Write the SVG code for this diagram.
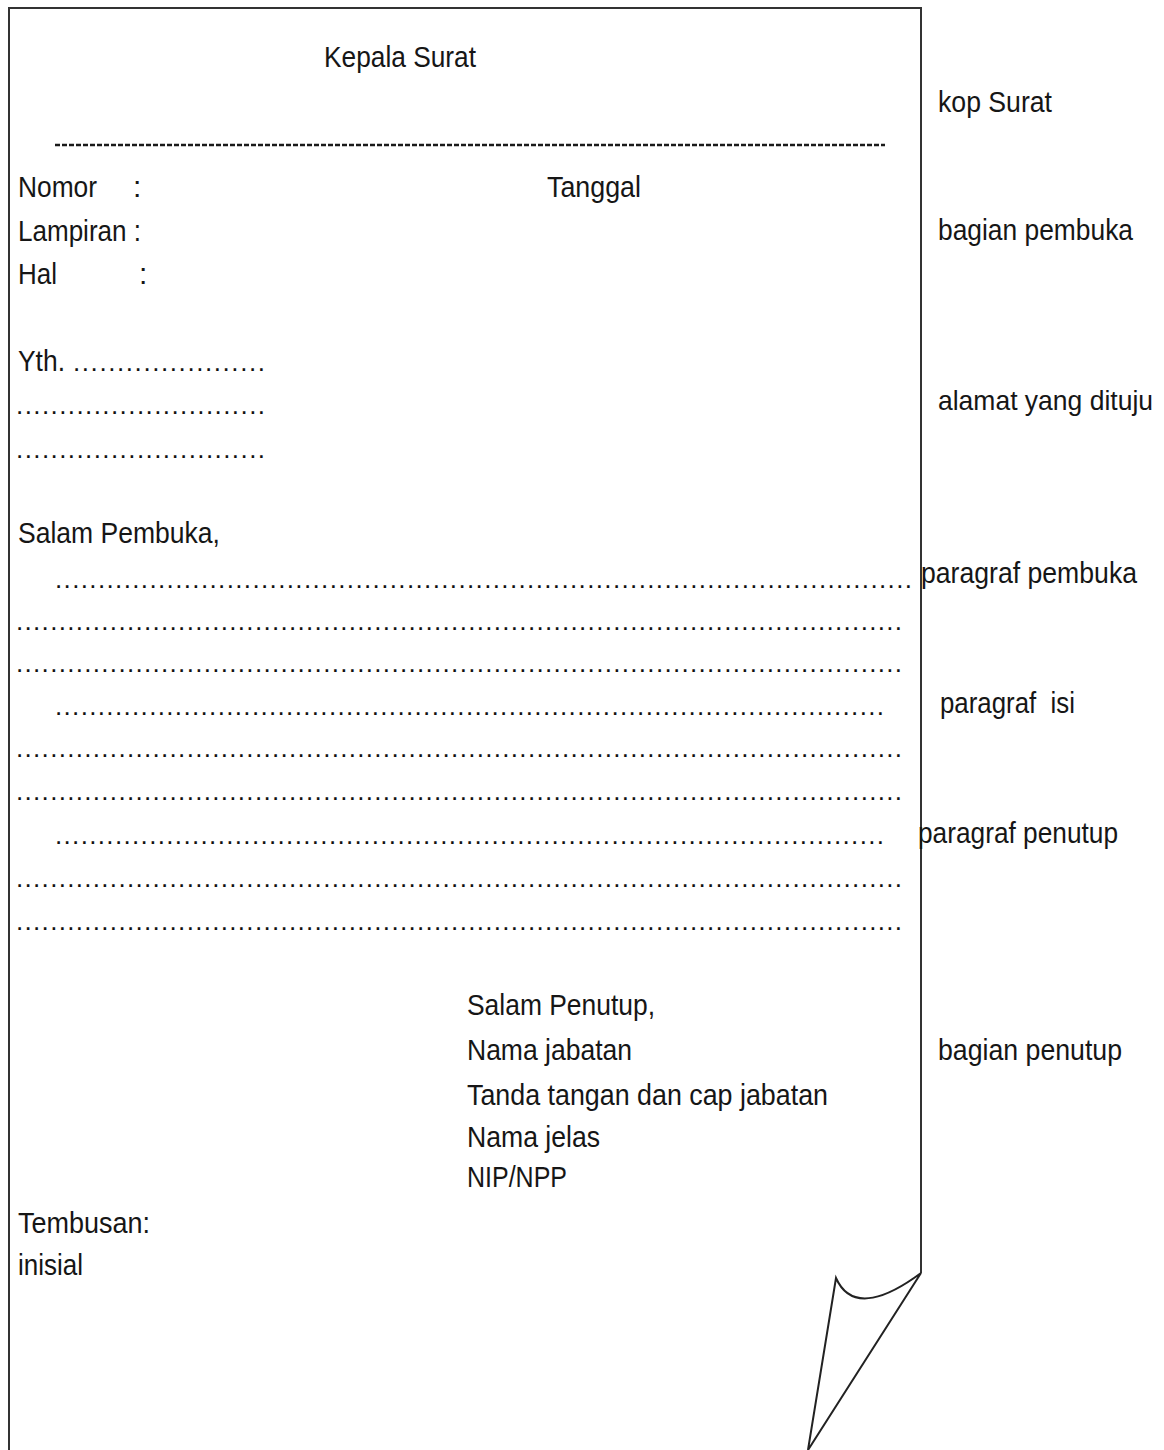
<svg xmlns="http://www.w3.org/2000/svg" width="1164" height="1450" viewBox="0 0 1164 1450">
<style>
  text { font-family: "Liberation Sans", Arial, sans-serif; font-size: 30px; fill: #161616; }
  text.dots { font-size: 26px; fill: #111; }
  text.narrow { font-size: 27.5px; }
  .page { fill: none; stroke: #333; stroke-width: 2; stroke-linejoin: miter; }
  .curl { fill: none; stroke: #222; stroke-width: 2; stroke-linejoin: miter; }
  .dash { stroke: #1a1a1a; stroke-width: 2.4; stroke-dasharray: 5 2; }
</style>
<rect width="1164" height="1450" fill="#fff"/>
<g id="page">
  <path class="page" d="M9 1452 L9 8 L921 8 L921 1273"/>
  <path class="curl" d="M921 1273 C890 1296 852 1314 836 1278 L808 1450 L921 1273 Z"/>
</g>
<g id="kepala">
  <text x="324" y="67" textLength="152" lengthAdjust="spacingAndGlyphs">Kepala Surat</text>
  <line class="dash" x1="55" y1="145" x2="885" y2="145"/>
</g>
<g id="pembuka">
  <text x="18" y="197"><tspan textLength="79" lengthAdjust="spacingAndGlyphs">Nomor</tspan><tspan x="133">:</tspan></text>
  <text x="547" y="197" textLength="94" lengthAdjust="spacingAndGlyphs">Tanggal</text>
  <text x="18" y="241" textLength="123" lengthAdjust="spacingAndGlyphs">Lampiran :</text>
  <text x="18" y="284"><tspan textLength="39" lengthAdjust="spacingAndGlyphs">Hal</tspan><tspan x="139">:</tspan></text>
</g>
<g id="alamat">
  <text x="18" y="371" textLength="47" lengthAdjust="spacingAndGlyphs">Yth.</text>
  <text class="dots" x="73" y="371" textLength="192" lengthAdjust="spacing">......................</text>
  <text class="dots" x="16" y="414" textLength="249" lengthAdjust="spacing">.............................</text>
  <text class="dots" x="16" y="458" textLength="249" lengthAdjust="spacing">.............................</text>
</g>
<g id="isi">
  <text x="18" y="543" textLength="202" lengthAdjust="spacingAndGlyphs">Salam Pembuka,</text>
  <text class="dots" x="55" y="588" textLength="857" lengthAdjust="spacing">....................................................................................................</text>
  <text class="dots" x="16" y="630" textLength="886" lengthAdjust="spacing">........................................................................................................</text>
  <text class="dots" x="16" y="672" textLength="886" lengthAdjust="spacing">........................................................................................................</text>
  <text class="dots" x="55" y="715" textLength="829" lengthAdjust="spacing">.................................................................................................</text>
  <text class="dots" x="16" y="757" textLength="886" lengthAdjust="spacing">........................................................................................................</text>
  <text class="dots" x="16" y="800" textLength="886" lengthAdjust="spacing">........................................................................................................</text>
  <text class="dots" x="55" y="844" textLength="829" lengthAdjust="spacing">.................................................................................................</text>
  <text class="dots" x="16" y="887" textLength="886" lengthAdjust="spacing">........................................................................................................</text>
  <text class="dots" x="16" y="930" textLength="886" lengthAdjust="spacing">........................................................................................................</text>
</g>
<g id="penutup">
  <text x="467" y="1015" textLength="188" lengthAdjust="spacingAndGlyphs">Salam Penutup,</text>
  <text x="467" y="1060" textLength="165" lengthAdjust="spacingAndGlyphs">Nama jabatan</text>
  <text x="467" y="1105" textLength="361" lengthAdjust="spacingAndGlyphs">Tanda tangan dan cap jabatan</text>
  <text x="467" y="1147" textLength="133" lengthAdjust="spacingAndGlyphs">Nama jelas</text>
  <text x="467" y="1187" textLength="100" lengthAdjust="spacingAndGlyphs">NIP/NPP</text>
  <text x="18" y="1233" textLength="132" lengthAdjust="spacingAndGlyphs">Tembusan:</text>
  <text x="18" y="1275" textLength="65" lengthAdjust="spacingAndGlyphs">inisial</text>
</g>
<g id="labels">
  <text x="938" y="112" textLength="114" lengthAdjust="spacingAndGlyphs">kop Surat</text>
  <text x="938" y="240" textLength="195" lengthAdjust="spacingAndGlyphs">bagian pembuka</text>
  <text class="narrow" x="938" y="410" textLength="215" lengthAdjust="spacingAndGlyphs">alamat yang dituju</text>
  <text x="921" y="583" textLength="216" lengthAdjust="spacingAndGlyphs">paragraf pembuka</text>
  <text x="940" y="713" textLength="135" lengthAdjust="spacingAndGlyphs" xml:space="preserve">paragraf  isi</text>
  <text x="918" y="843" textLength="200" lengthAdjust="spacingAndGlyphs">paragraf penutup</text>
  <text x="938" y="1060" textLength="184" lengthAdjust="spacingAndGlyphs">bagian penutup</text>
</g>
</svg>
